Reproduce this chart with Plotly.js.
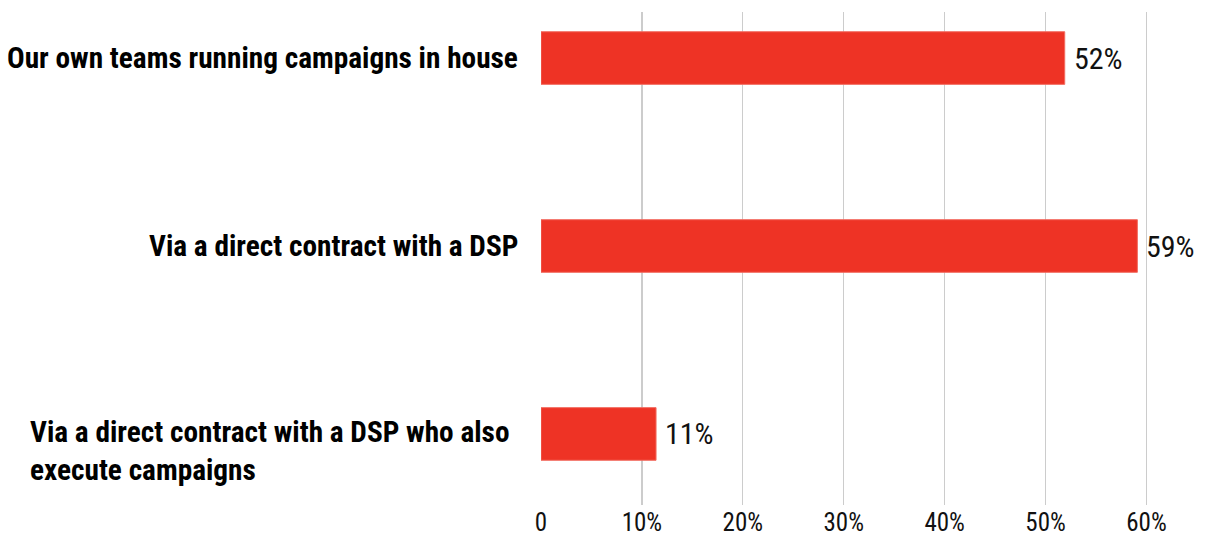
<!DOCTYPE html>
<html>
<head>
<meta charset="utf-8">
<script src="https://cdn.plot.ly/plotly-3.0.1.min.js"></script>
<style>html,body{margin:0;padding:0;background:#fff;}#chart{width:1215px;height:536px;}</style>
</head>
<body>
<div id="chart"></div>
<script>
const categories = [
  "Our own teams running campaigns in house",
  "Via a direct contract with a DSP",
  "Via a direct contract with a DSP who also<br>execute campaigns"
];
const values = [51.9, 59.1, 11.4];
const valueLabels = ["52%", "59%", "11%"];
const tickValues = [0, 10, 20, 30, 40, 50, 60];
const tickLabels = ["0", "10%", "20%", "30%", "40%", "50%", "60%"];

const FONT = "Roboto Condensed, Roboto, Arial Narrow, sans-serif";
const RED = "#EE3325";

const trace = {
  type: "bar",
  orientation: "h",
  x: values,
  y: categories.map((c, i) => i),
  marker: {color: RED, line: {color: "#F26B5F", width: 1}},
  width: 0.28,
  hoverinfo: "none"
};

const labelAnnotations = categories.map((c, i) => {
  const lines = c.split("<br>").length;
  return {
    text: c,
    xref: "paper", yref: "y",
    x: 0, y: i,
    xanchor: "right", yanchor: "middle",
    xshift: lines > 1 ? -29 : -21,
    yshift: lines > 1 ? -17 : 0,
    align: "left",
    showarrow: false,
    font: {family: FONT, size: 29.3, color: "#000", weight: 700}
  };
});

const valueAnnotations = values.map((v, i) => ({
  text: valueLabels[i],
  xref: "x", yref: "y",
  x: v, y: i,
  xanchor: "left", yanchor: "middle",
  xshift: 7,
  showarrow: false,
  font: {family: FONT, size: 30, color: "#111"}
}));

const layout = {
  width: 1215, height: 536,
  margin: {l: 541, r: 8, t: 12, b: 31},
  paper_bgcolor: "#fff", plot_bgcolor: "#fff",
  showlegend: false,
  xaxis: {
    range: [0, 66],
    tickvals: tickValues,
    ticktext: tickLabels,
    showgrid: true,
    gridcolor: "#CCCCCC",
    gridwidth: 1.3,
    zeroline: false,
    showline: false,
    ticks: "",
    tickfont: {family: FONT, size: 25, color: "#111"}
  },
  yaxis: {
    range: [2.378, -0.245],
    showticklabels: false,
    showgrid: false,
    zeroline: false,
    showline: false,
    ticks: ""
  },
  annotations: labelAnnotations.concat(valueAnnotations)
};

Plotly.newPlot("chart", [trace], layout, {displayModeBar: false, staticPlot: true});
</script>
</body>
</html>
